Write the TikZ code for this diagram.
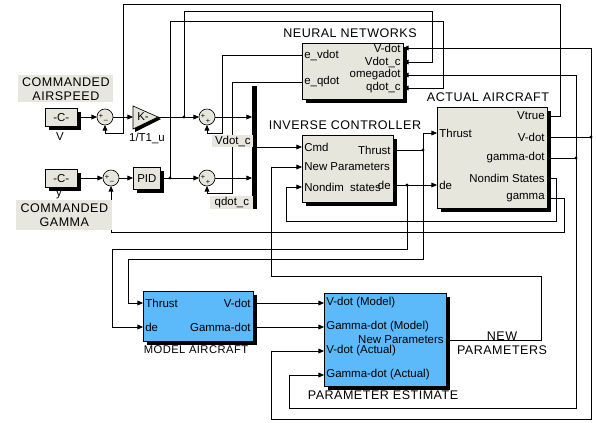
\documentclass[tikz,border=0pt]{standalone}
\usepackage{fontspec}
\setmainfont{Liberation Sans}
\newfontfamily\titlefam[LetterSpace=4]{Liberation Sans}
\usetikzlibrary{arrows.meta,shadows}
\definecolor{blockgray}{RGB}{230,230,221}
\definecolor{labelgray}{RGB}{231,231,223}
\definecolor{blockblue}{RGB}{92,185,250}
\newcommand\portfont{\fontsize{8.6}{9}\selectfont}
\newcommand\titlefont{\titlefam\fontsize{9.4}{10.5}\selectfont}
\newcommand\signfont{\fontsize{5.5}{5.5}\selectfont}
\newcommand\upx{0.75pt}
\begin{document}
\begin{tikzpicture}[x=0.75pt,y=-0.75pt,line width=0.55pt,
  >={Triangle[length=4.2pt,width=3.6pt]},
  blk/.style={draw,line width=0.5pt,fill=blockgray,inner sep=0pt,anchor=north west,
    drop shadow={shadow xshift=2.6pt,shadow yshift=-2.6pt,fill=black,opacity=1}},
  blue/.style={fill=blockblue},
  sumb/.style={circle,draw,line width=0.5pt,fill=blockgray,minimum size=16*\upx,inner sep=0pt},
  pin/.style={font=\portfont,inner sep=0pt,anchor=west},
  pout/.style={font=\portfont,inner sep=0pt,anchor=east},
  ttl/.style={font=\titlefont,inner sep=0pt},
  tag/.style={fill=labelgray,inner sep=0pt,anchor=north west},
  dot/.style={fill=black}]
\useasboundingbox (0,0) rectangle (596,422);
\fill[white] (0,0) rectangle (596,422);

% ---------------- blocks ----------------
\node[blk,minimum width=32*\upx,minimum height=18*\upx,font=\portfont] (cv) at (45,108) {-C-};
\node[blk,minimum width=32*\upx,minimum height=18*\upx,font=\portfont] (cg) at (45,169) {-C-};
\node[blk,minimum width=27*\upx,minimum height=22*\upx,font=\portfont] (pid) at (133,167) {PID};
\node[blk,minimum width=101*\upx,minimum height=56*\upx] (nn) at (302,43) {};
\node[blk,minimum width=91*\upx,minimum height=67*\upx] (ic) at (302,135) {};
\node[blk,minimum width=110*\upx,minimum height=101*\upx] (aa) at (437,107) {};
\node[blk,blue,minimum width=110*\upx,minimum height=50*\upx] (ma) at (143,291) {};
\node[blk,blue,minimum width=122*\upx,minimum height=93*\upx] (pe) at (324,293) {};
\node[fill=black,inner sep=0pt,anchor=north west,minimum width=5*\upx,minimum height=123*\upx] (mux) at (252,86) {};

% sum junctions
\node[sumb] (s1) at (105,117) {};
\node[sumb] (s2) at (207,117) {};
\node[sumb] (s3) at (207,178) {};
\node[sumb] (s4) at (111,178) {};
\node[font=\signfont,inner sep=0pt] (s1a) at (101,116) {+};
\node[font=\signfont,inner sep=0pt] (s1b) at (106,121) {--};
\node[font=\signfont,inner sep=0pt] (s4a) at (107,177) {+};
\node[font=\signfont,inner sep=0pt] (s4b) at (112,182) {--};
\node[font=\signfont,inner sep=0pt] (s2a) at (203,116) {+};
\node[font=\signfont,inner sep=0pt] (s2b) at (208,121) {+};
\node[font=\signfont,inner sep=0pt] (s3a) at (203,177) {+};
\node[font=\signfont,inner sep=0pt] (s3b) at (208,182) {+};

% gain
\fill[black] (135,108) -- (161,119) -- (135,132) -- cycle;
\draw[line width=0.5pt,fill=blockgray] (133,106) -- (158,117) -- (133,129) -- cycle;
\node[font=\portfont,inner sep=0pt] (gain) at (143,117) {K-};

% ---------------- ports ----------------
\coordinate (cv-o) at (77,117);
\coordinate (cg-o) at (77,178);
\coordinate (s1-l) at (97,117);   \coordinate (s1-r) at (113,117);  \coordinate (s1-b) at (105,125);
\coordinate (s2-l) at (199,117);  \coordinate (s2-r) at (215,117);  \coordinate (s2-b) at (207,125);
\coordinate (s3-l) at (199,178);  \coordinate (s3-r) at (215,178);  \coordinate (s3-b) at (207,186);
\coordinate (s4-l) at (103,178);  \coordinate (s4-r) at (119,178);  \coordinate (s4-b) at (111,186);
\coordinate (g-in) at (133,117);  \coordinate (g-out) at (158,117);
\coordinate (pid-in) at (133,178); \coordinate (pid-out) at (160,178);
\coordinate (mx-i1) at (252,117); \coordinate (mx-i2) at (252,178); \coordinate (mx-o) at (257,147);
\coordinate (nn-i1) at (403,48);  \coordinate (nn-i2) at (403,62);
\coordinate (nn-i3) at (403,75);  \coordinate (nn-i4) at (403,88);
\coordinate (nn-o1) at (302,55);  \coordinate (nn-o2) at (302,82);
\coordinate (ic-cmd) at (302,147); \coordinate (ic-np) at (302,167); \coordinate (ic-nd) at (302,187);
\coordinate (ic-thr) at (393,150); \coordinate (ic-de) at (393,185);
\coordinate (aa-thr) at (437,133); \coordinate (aa-de) at (437,185);
\coordinate (aa-vt) at (547,116);  \coordinate (aa-vd) at (547,137); \coordinate (aa-gd) at (547,158);
\coordinate (aa-nd) at (547,178);  \coordinate (aa-gm) at (547,198);
\coordinate (ma-thr) at (143,303); \coordinate (ma-de) at (143,327);
\coordinate (ma-vd) at (253,303);  \coordinate (ma-gd) at (253,327);
\coordinate (pe-i1) at (324,303);  \coordinate (pe-i2) at (324,327);
\coordinate (pe-i3) at (324,351);  \coordinate (pe-i4) at (324,375);
\coordinate (pe-np) at (446,340);
\coordinate (j1) at (184,117); \coordinate (j2) at (170,178);
\coordinate (j3) at (591,137); \coordinate (j4) at (576,158);
\coordinate (j5) at (423,150); \coordinate (j6) at (407,185);

% ---------------- signal lines ----------------
\draw[->] (cv-o) -- (s1-l);
\draw[->] (s1-r) -- (g-in);
\draw[->] (g-out) -- (s2-l);
\draw[->] (s2-r) -- (mx-i1);
\draw[->] (mx-o) -- (ic-cmd);
\draw[->] (cg-o) -- (s4-l);
\draw[->] (s4-r) -- (pid-in);
\draw[->] (pid-out) -- (s3-l);
\draw[->] (s3-r) -- (mx-i2);

% airspeed feedback
\draw[->] (aa-vt) -- (560,116) -- (560,4) -- (123,4) -- (123,133) -- (105,133) -- (s1-b);
% commanded rates to the networks
\draw[->] (j1) -- (184,11) -- (432,11) -- (432,62) -- (nn-i2);
\draw[->] (j2) -- (170,21) -- (443,21) -- (443,88) -- (nn-i4);
% network corrections
\draw[->] (nn-o1) -- (222,55) -- (222,133) -- (207,133) -- (s2-b);
\draw[->] (nn-o2) -- (232,82) -- (232,193) -- (207,193) -- (s3-b);
% measured rates
\draw (aa-vd) -- (j3);
\draw[->] (j3) -- (591,48) -- (nn-i1);
\draw[->] (j3) -- (591,419) -- (271,419) -- (271,351) -- (pe-i3);
\draw (aa-gd) -- (j4);
\draw[->] (j4) -- (576,75) -- (nn-i3);
\draw[->] (j4) -- (576,408) -- (289,408) -- (289,375) -- (pe-i4);
% state and gamma feedback
\draw[->] (aa-nd) -- (556,178) -- (556,221) -- (286,221) -- (286,187) -- (ic-nd);
\draw[->] (aa-gm) -- (564,198) -- (564,232) -- (111,232) -- (s4-b);
% controls
\draw (ic-thr) -- (j5);
\draw[->] (j5) -- (423,133) -- (aa-thr);
\draw[->] (j5) -- (423,259) -- (128,259) -- (128,303) -- (ma-thr);
\draw[->] (ic-de) -- (aa-de);
\draw[->] (j6) -- (407,249) -- (112,249) -- (112,327) -- (ma-de);
% model to estimator
\draw[->] (ma-vd) -- (pe-i1);
\draw[->] (ma-gd) -- (pe-i2);
% new parameters
\draw[->] (pe-np) -- (541,340) -- (541,276) -- (271,276) -- (271,167) -- (ic-np);

\foreach \j in {j1,j2,j3,j4,j5,j6} \fill (\j) circle[radius=1.3pt];

% ---------------- port names ----------------
\node[pout] (nn-l1) at (401,48) {V-dot};
\node[pout] (nn-l2) at (401,62) {Vdot\_c};
\node[pout] (nn-l3) at (401,75) {omegadot};
\node[pout] (nn-l4) at (401,88) {qdot\_c};
\node[pin] (nn-l5) at (304,55) {e\_vdot};
\node[pin] (nn-l6) at (304,82) {e\_qdot};

\node[pin] (ic-l1) at (304,147) {Cmd};
\node[pin] (ic-l2) at (304,167) {New Parameters};
\node[pin] (ic-l3) at (304,187) {Nondim\ \ states};
\node[pout] (ic-l4) at (391,150) {Thrust};
\node[pout] (ic-l5) at (391,185) {de};

\node[pin] (aa-l1) at (439,133) {Thrust};
\node[pin] (aa-l2) at (439,185) {de};
\node[pout] (aa-l3) at (545,116) {Vtrue};
\node[pout] (aa-l4) at (545,137) {V-dot};
\node[pout] (aa-l5) at (545,158) {gamma-dot};
\node[pout] (aa-l6) at (545,178) {Nondim States};
\node[pout] (aa-l7) at (545,198) {gamma};

\node[pin] (ma-l1) at (145,303) {Thrust};
\node[pin] (ma-l2) at (145,327) {de};
\node[pout] (ma-l3) at (251,303) {V-dot};
\node[pout] (ma-l4) at (251,327) {Gamma-dot};

\node[pin] (pe-l1) at (326,303) {V-dot (Model)};
\node[pin] (pe-l2) at (326,327) {Gamma-dot (Model)};
\node[pin] (pe-l3) at (326,351) {V-dot (Actual)};
\node[pin] (pe-l4) at (326,375) {Gamma-dot (Actual)};
\node[pout] (pe-l5) at (444,340) {New Parameters};

% ---------------- block names and labels ----------------
\node[ttl] (t-nn) at (350,33) {NEURAL NETWORKS};
\node[ttl] (t-ic) at (345,125) {INVERSE CONTROLLER};
\node[ttl] (t-aa) at (488,97) {ACTUAL AIRCRAFT};
\node[ttl,font=\titlefam\fontsize{8.4}{10}\selectfont] (t-ma) at (196,350) {MODEL AIRCRAFT};
\node[ttl] (t-pe) at (383,395) {PARAMETER ESTIMATE};
\node[ttl,align=center] (t-np) at (502,343) {NEW\\PARAMETERS};

\node[tag,minimum width=95*\upx,minimum height=27*\upx,font=\titlefont,align=center] (c-spd) at (18,75) {COMMANDED\\AIRSPEED};
\node[tag,minimum width=96*\upx,minimum height=30*\upx,font=\titlefont,align=center] (c-gam) at (16,200) {COMMANDED\\GAMMA};
\node[tag,minimum width=41*\upx,minimum height=12*\upx,font=\portfont] (t-vc) at (212,135) {Vdot\_c};
\node[tag,minimum width=43*\upx,minimum height=13*\upx,font=\portfont] (t-qc) at (210,196) {qdot\_c};

\node[font=\portfont,inner sep=0pt] (n-v) at (60,137) {V};
\node[font=\portfont,inner sep=0pt] (n-y) at (59,195) {y};
\node[font=\portfont,inner sep=0pt] (n-g) at (147,138) {1/T1\_u};
\end{tikzpicture}
\end{document}
